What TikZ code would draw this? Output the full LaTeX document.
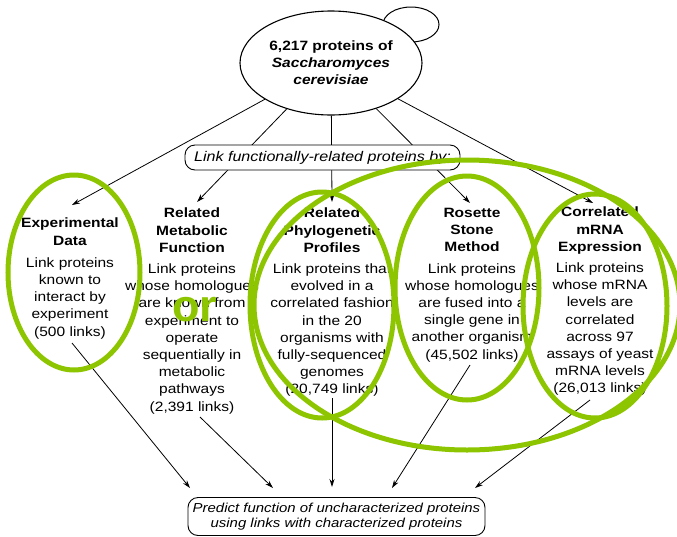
\documentclass[tikz,border=0pt]{standalone}
\usepackage{fontspec}
\setmainfont{Liberation Sans}[FakeStretch=1.15]
\newfontfamily\orfont{Liberation Sans}
\usetikzlibrary{arrows.meta,shapes.geometric,backgrounds}
\definecolor{hlgreen}{RGB}{141,198,0}
\begin{document}
\begin{tikzpicture}[x=1pt,y=-1pt,
  arr/.style={-{Stealth[length=8pt,width=5pt]}, line width=0.8pt},
  coltext/.style={anchor=north, align=center, inner sep=0pt, font=\fontsize{13.5}{17.2}\selectfont},
  hl/.style={draw=hlgreen, line width=5pt},
  rbox/.style={draw, rounded corners=10pt, line width=0.9pt, fill=white, inner sep=0pt, align=center}]
\useasboundingbox (0,0) rectangle (677,536);

% budding cell behind the main cell
\draw[line width=1pt] (411,24.5) ellipse [x radius=28, y radius=17.5];
\node[ellipse, draw, line width=1.1pt, fill=white, minimum width=182pt, minimum height=104pt,
      inner sep=0pt, align=center, font=\bfseries\fontsize{13.5}{17}\selectfont]
      (top) at (331,63) {6,217 proteins of\\\textit{Saccharomyces}\\\textit{cerevisiae}};

\node[rbox, minimum width=275pt, minimum height=25pt, font=\itshape\fontsize{14}{17}\selectfont]
      (via) at (322.5,157.5) {Link functionally-related proteins by:};

\node[coltext] (c1) at (70,218) {\textbf{Experimental}\\\textbf{Data}\\[5pt]Link proteins\\known to\\interact by\\experiment\\(500 links)};
\node[coltext] (c2) at (192,208) {\textbf{Related}\\\textbf{Metabolic}\\\textbf{Function}\\[4pt]Link proteins\\whose homologues\\are known from\\experiment to\\operate\\sequentially in\\metabolic\\pathways\\(2,391 links)};
\node[coltext] (c3) at (332,208) {\textbf{Related}\\\textbf{Phylogenetic}\\\textbf{Profiles}\\[4pt]Link proteins that\\evolved in a\\correlated fashion\\in the 20\\organisms with\\fully-sequenced\\genomes\\(20,749 links)};
\node[coltext] (c4) at (472,208) {\textbf{Rosette}\\\textbf{Stone}\\\textbf{Method}\\[4pt]Link proteins\\whose homologues\\are fused into a\\single gene in\\another organism\\(45,502 links)};
\node[coltext] (c5) at (600,207) {\textbf{Correlated}\\\textbf{mRNA}\\\textbf{Expression}\\[4pt]Link proteins\\whose mRNA\\levels are\\correlated\\across 97\\assays of yeast\\mRNA levels\\(26,013 links)};

\node[rbox, minimum width=297pt, minimum height=38pt, font=\itshape\fontsize{13}{15.5}\selectfont]
      (bot) at (336.5,516.5) {Predict function of uncharacterized proteins\\using links with characterized proteins};

% arrow end points
\coordinate (t1) at (72,205);
\coordinate (t2) at (197,202);
\coordinate (t3) at (332,202);
\coordinate (t4) at (470,203);
\coordinate (t5) at (593,203);
\coordinate (s1) at (72,343);  \coordinate (e1) at (190,488);
\coordinate (s2) at (200,417); \coordinate (e2) at (273,488);
\coordinate (s3) at (332,398); \coordinate (e3) at (332,487);
\coordinate (s4) at (470,365); \coordinate (e4) at (392,488);
\coordinate (s5) at (590,400); \coordinate (e5) at (475,488);

\begin{pgfonlayer}{background}
  \fill[white] (0,0) rectangle (677,536);
  \draw[arr] (top) -- (t1);
  \draw[arr] (top) -- (t2);
  \draw[arr] (top) -- (t3);
  \draw[arr] (top) -- (t4);
  \draw[arr] (top) -- (t5);
\end{pgfonlayer}

\draw[arr] (s1) -- (e1);
\draw[arr] (s2) -- (e2);
\draw[arr] (s3) -- (e3);
\draw[arr] (s4) -- (e4);
\draw[arr] (s5) -- (e5);

% green annotations
\draw[hl] (74,272.5) ellipse [x radius=66, y radius=97.5];
\draw[hl] (322,305) ellipse [x radius=72, y radius=113];
\draw[hl] (467,288) ellipse [x radius=72, y radius=112];
\draw[hl] (595,306) ellipse [x radius=72, y radius=112];
\draw[hl] (467,305) ellipse [x radius=213, y radius=145];
\node[text=hlgreen, inner sep=0pt, font=\orfont\bfseries\fontsize{45}{45}\selectfont] (or) at (195,310) {or};
\end{tikzpicture}
\end{document}
